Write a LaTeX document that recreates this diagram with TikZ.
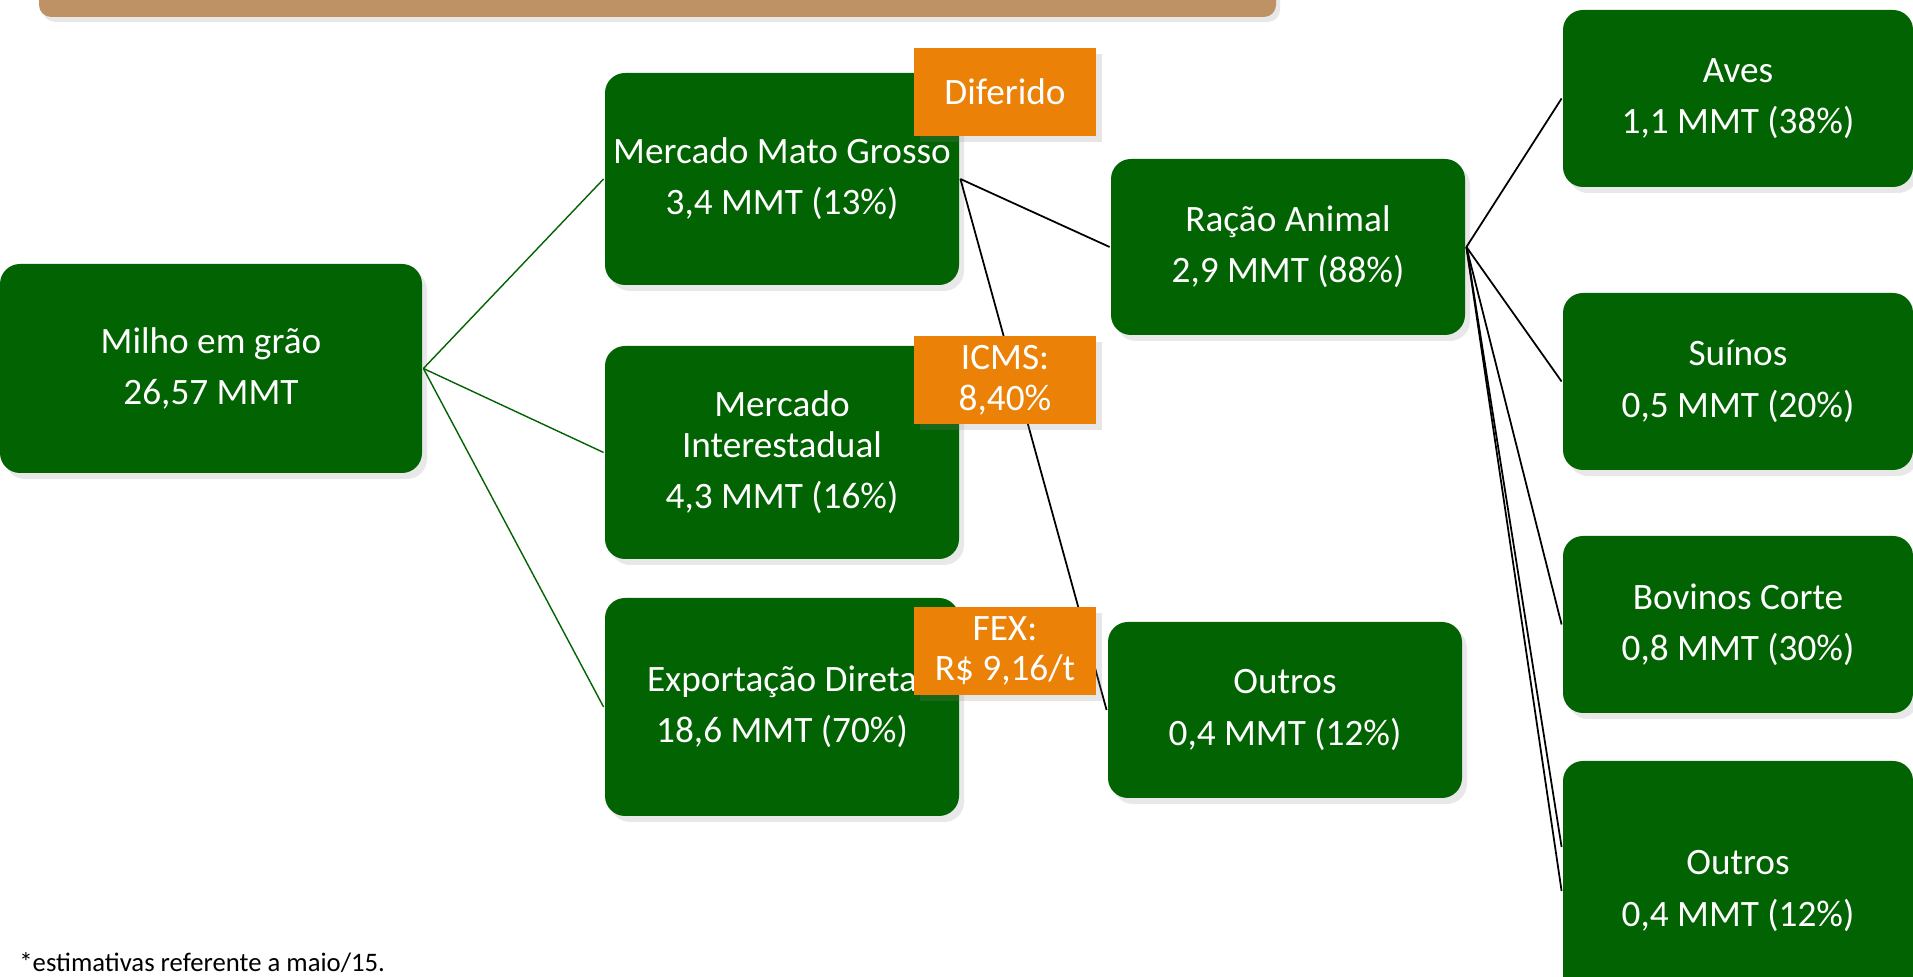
\documentclass[tikz,border=0pt]{standalone}
\usepackage{fontspec}
\setmainfont{Carlito}
\usetikzlibrary{shadows,positioning}
\definecolor{boxgreen}{HTML}{026302}
\definecolor{tagorange}{HTML}{EB8106}
\definecolor{bartan}{HTML}{BE9264}
\tikzstyle{green box}=[
        fill = boxgreen,
        text = white,
        rounded corners = 2mm,
        minimum width = 35.4mm,
        inner sep = 0pt,
        align = center,
        font = \fontsize{10.6}{11.6}\selectfont,
        drop shadow = {opacity=0.18, shadow xshift=0.5mm, shadow yshift=-0.6mm}
    ]

\begin{document}
\begin{tikzpicture}[thick, tag/.style = {fill=tagorange, text=white, minimum width=18.2mm, minimum height=8.8mm, inner sep=0pt, align=center, font=\fontsize{10.6}{11.6}\selectfont, drop shadow={opacity=0.2, shadow xshift=0.6mm, shadow yshift=-0.6mm}}]
        \useasboundingbox (0,0) rectangle (19.13,-9.77);
        \fill[bartan, rounded corners=1.2mm, drop shadow={opacity=0.18, shadow xshift=0.4mm, shadow yshift=-0.5mm}] (0.39,0.6) rectangle (12.76,-0.17);

        \node[green box, minimum width=42.2mm, minimum height=20.9mm] (milho) at (2.11,-3.685) {Milho em grão\\[3pt]26,57 MMT};
        \node[green box, minimum height=21.2mm] (mt) at (7.82,-1.79) {Mercado Mato Grosso\\[3pt]3,4 MMT (13\%)};
        \node[green box, minimum height=21.3mm] (inter) at (7.82,-4.525) {Mercado\\Interestadual\\[3pt]4,3 MMT (16\%)};
        \node[green box, minimum height=21.8mm] (exp) at (7.82,-7.07) {Exportação Direta\\[3pt]18,6 MMT (70\%)};
        \node[green box, minimum height=17.6mm] (racao) at (12.88,-2.47) {Ração Animal\\[3pt]2,9 MMT (88\%)};
        \node[green box, minimum height=17.6mm] (outros) at (12.85,-7.10) {Outros\\[3pt]0,4 MMT (12\%)};
        \node[green box, minimum width=35mm, minimum height=17.7mm] (aves) at (17.38,-0.985) {Aves\\[3pt]1,1 MMT (38\%)};
        \node[green box, minimum width=35mm, minimum height=17.7mm] (suinos) at (17.38,-3.815) {Suínos\\[3pt]0,5 MMT (20\%)};
        \node[green box, minimum width=35mm, minimum height=17.7mm] (bovinos) at (17.38,-6.245) {Bovinos Corte\\[3pt]0,8 MMT (30\%)};
        \node[green box, minimum width=35mm, minimum height=26mm] (outrosb) at (17.38,-8.91) {Outros\\[3pt]0,4 MMT (12\%)};

        \draw[boxgreen, line width=0.4pt] (milho.east) -- (mt.west);
        \draw[boxgreen, line width=0.4pt] (milho.east) -- (inter.west);
        \draw[boxgreen, line width=0.4pt] (milho.east) -- (exp.west);
        \draw[line width=0.5pt] (mt.east) -- (racao.west);
        \draw[line width=0.5pt] (mt.east) -- (outros.west);
        \draw[line width=0.5pt] (racao.east) -- (aves.west);
        \draw[line width=0.5pt] (racao.east) -- (suinos.west);
        \draw[line width=0.5pt] (racao.east) -- (bovinos.west);
        \draw[line width=0.5pt] (racao.east) -- ([yshift=4.4mm]outrosb.west);
        \draw[line width=0.5pt] (racao.east) -- (outrosb.west);

        \node[tag] (diferido) at (10.05,-0.92) {Diferido};
        \node[tag] (icms) at (10.05,-3.80) {ICMS:\\8,40\%};
        \node[tag] (fex) at (10.05,-6.51) {FEX:\\R\$ 9,16/t};

        \node[anchor=west, inner sep=0pt, font=\fontsize{7.6}{9}\selectfont] (nota) at (0.18,-9.63) {*estimativas referente a maio/15.};
    \end{tikzpicture}
\end{document}
